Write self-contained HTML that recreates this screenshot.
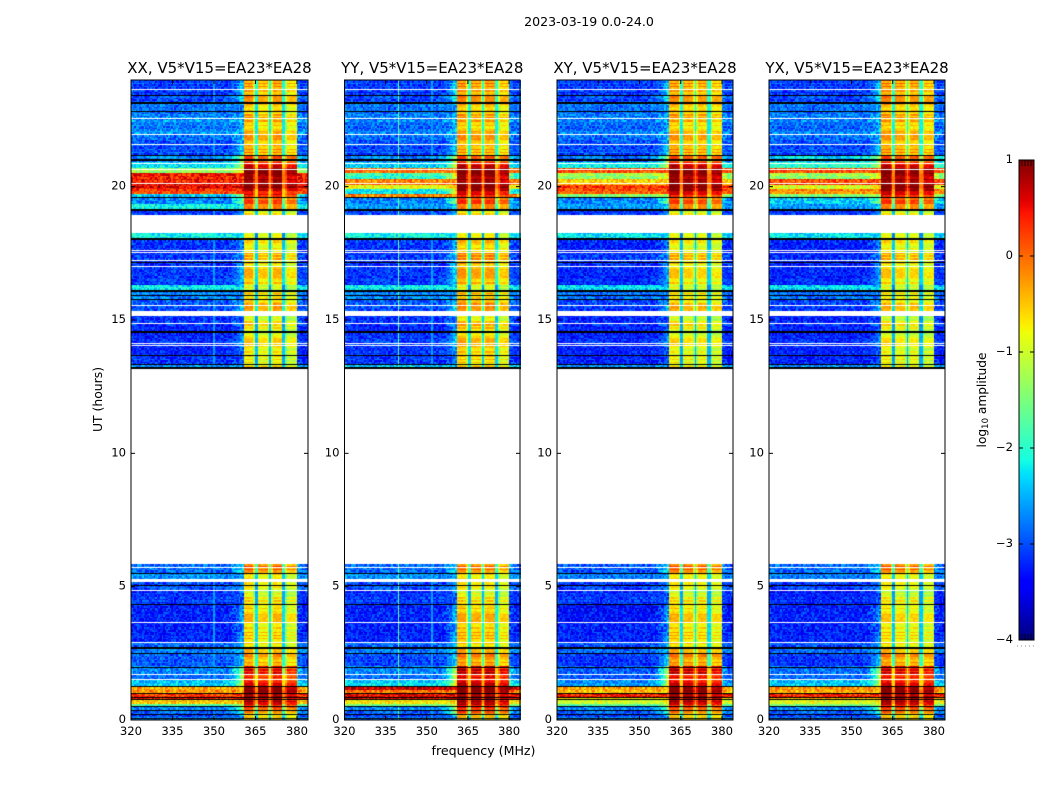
<!DOCTYPE html>
<html lang="en">
<head>
<meta charset="utf-8">
<title>2023-03-19 0.0-24.0 dynamic spectra</title>
<style>
html,body{margin:0;padding:0;background:#fff;}
#figure{position:relative;width:1050px;height:800px;overflow:hidden;background:#fff;}
#figure canvas{position:absolute;display:block;}
#overlay{position:absolute;left:0;top:0;}
#overlay text{font-family:"DejaVu Sans","Liberation Sans",sans-serif;fill:#000;}
</style>
</head>
<body>
<div id="figure">
<svg id="overlay" width="1050" height="800" viewBox="0 0 1050 800"></svg>
</div>
<script>
/* ---------- chart data ---------- */
const figureTitle = "2023-03-19 0.0-24.0";
const panelNames = ["XX", "YY", "XY", "YX"];
const panelTitles = ["XX, V5*V15=EA23*EA28", "YY, V5*V15=EA23*EA28", "XY, V5*V15=EA23*EA28", "YX, V5*V15=EA23*EA28"];
const freqTicks = [320, 335, 350, 365, 380];
const utTicks = [0, 5, 10, 15, 20];
const colorTicks = [-4, -3, -2, -1, 0, 1];
const colorTickLabels = ["\u22124", "\u22123", "\u22122", "\u22121", "0", "1"];

/* UT hour boundaries of the horizontal segments */
const segmentEdges = [0,.10,.21,.39,.52,.62,.77,.86,1.00,1.13,1.27,1.52,1.72,2.00,2.53,2.91,3.66,4.35,4.86,5.27,5.51,5.82,13.17,13.34,13.68,14.05,14.54,14.88,15.34,15.56,15.78,16.12,16.32,17.02,17.54,18.03,18.29,18.93,19.16,19.35,19.6,19.75,19.9,20.05,20.3,20.5,20.66,20.89,21.18,21.6,21.97,22.57,23.13,24];

/* log10 amplitude out of band, per segment */
const bgXX = [-2.6,-2.9,-2.8,-2.6,-1.8,-0.5,0.4,0.3,-0.3,-0.4,-2.4,-2.7,-2.6,-2.8,-2.7,-3.1,-3.1,-3.0,-2.9,-2.5,-2.7,null,-2.5,-3.0,-3.1,-3.1,-3.1,-3.0,-2.9,-2.8,-2.6,-2.2,-3.0,-3.0,-3.0,-2.2,null,-3.0,-2.2,-2.6,-2.3,0.2,0.5,0.45,0.45,-1.4,-2.3,-2.6,-2.9,-2.8,-2.6,-2.7,-3.0];
const bgYY = [-2.7,-2.9,-2.8,-2.6,-1.6,-0.7,0.55,0.6,-0.1,0.65,-2.3,-2.7,-2.6,-2.9,-2.7,-3.1,-3.1,-3,-2.9,-2.5,-2.7,null,-2.4,-3,-3,-3,-3.1,-3,-2.9,-2.8,-2.6,-2.2,-3,-3,-3,-2.2,null,-2.9,-2.5,-2.6,-0.1,-2.2,-0.9,-0.1,-1.9,-0.1,-2.4,-2.6,-2.9,-2.8,-2.7,-2.7,-3];
const bgXY = [-2.6,-2.9,-2.8,-2.6,-1.8,-1.0,-0.7,0.45,-0.5,-0.4,-2.5,-2.8,-2.8,-3,-2.8,-3.1,-3.2,-3,-3,-2.6,-2.8,null,-2.5,-3.1,-3.1,-3.1,-3.1,-3.1,-3,-2.9,-2.7,-2.3,-3.1,-3,-3.1,-2.3,null,-3,-2.5,-2.6,-1.4,0.1,0.2,-0.5,-1.3,0.1,-2.2,-2.7,-2.9,-2.8,-2.7,-2.7,-3];
const bgYX = [-2.7,-2.9,-2.8,-2.6,-1.6,-0.9,-0.4,0.4,-0.4,-0.3,-2.4,-2.7,-2.7,-3,-2.8,-3.1,-3.1,-3.1,-3,-2.6,-2.7,null,-2.5,-3.1,-3.1,-3.1,-3.1,-3.1,-3,-2.9,-2.7,-2.3,-3.1,-3.1,-3.1,-2.3,null,-3,-2.5,-2.4,-1.4,-0.2,-1.0,0.2,-1.3,0.1,-2,-2.3,-2.9,-2.8,-2.7,-2.7,-3];

/* log10 amplitude inside the receiver band, per segment */
const bandXX = [-0.8,-0.5,-0.3,0.1,0.3,0.75,0.9,1,1,0.85,0.45,0.35,0.3,-0.35,-0.6,-0.65,-0.55,-0.85,-0.85,-0.65,-0.15,null,-0.6,-0.85,-0.7,-0.7,-0.85,-0.85,-0.45,-0.5,-0.65,-1.0,-0.55,-0.6,-0.7,-1.0,null,-0.7,-0.3,0.1,0.55,0.55,0.95,1,1,0.95,0.5,0.3,-0.4,-0.4,-0.5,-0.55,-0.4];
const bandYY = [-0.7,-0.3,0.1,0.3,0.5,0.85,1,1,1,1,0.65,0.6,0.55,-0.2,-0.5,-0.5,-0.45,-0.8,-0.8,-0.6,-0.2,null,-0.5,-0.65,-0.5,-0.5,-0.6,-0.7,-0.35,-0.3,-0.5,-0.95,-0.4,-0.35,-0.5,-0.9,null,-0.6,-0.3,0.2,0.6,0.75,1,1,1,0.95,0.6,0.3,-0.4,-0.35,-0.45,-0.45,-0.3];
const bandXY = [-0.7,-0.45,-0.2,0.1,0.3,0.8,1,1,1,0.85,0.55,0.5,0.5,-0.2,-0.55,-0.6,-0.55,-0.85,-0.85,-0.6,-0.1,null,-0.7,-0.85,-0.8,-0.75,-0.85,-0.9,-0.5,-0.6,-0.7,-1.0,-0.65,-0.6,-0.75,-1.0,null,-0.75,-0.3,0.1,0.55,0.8,1,1,1,0.9,0.6,0.3,-0.35,-0.4,-0.5,-0.45,-0.35];
const bandYX = [-0.7,-0.45,-0.1,0.2,0.4,0.85,1,1,1,0.85,0.5,0.45,0.4,-0.25,-0.6,-0.7,-0.65,-0.9,-0.9,-0.65,-0.15,null,-0.75,-0.85,-0.8,-0.8,-0.9,-0.95,-0.55,-0.6,-0.75,-1.0,-0.65,-0.6,-0.7,-1.0,null,-0.75,-0.3,0.15,0.6,0.8,1,1,1,0.9,0.55,0.3,-0.35,-0.4,-0.45,-0.45,-0.3];

/* sub-band limits in MHz and their level offsets */
const subBandStart = [360.5, 365.8, 370.8, 375.9];
const subBandEnd = [364.8, 369.9, 374.9, 380.0];
const subOffsetXX = [0.12, -0.05, 0.1, -0.2];
const subOffsetYY = [0.1, 0, 0.05, -0.2];
const subOffsetXY = [0.1, 0, 0, -0.15];
const subOffsetYX = [0.1, 0, 0, -0.15];

/* interference channels: MHz and level */
const rfiFreqXX = [350];
const rfiLevelXX = [-2.6];
const rfiFreqYY = [339.6, 351.6];
const rfiLevelYY = [-1.6, -2.6];
const rfiFreqXY = [];
const rfiLevelXY = [];
const rfiFreqYX = [];
const rfiLevelYX = [];

/* flagged times in UT hours */
const whiteLineTimes = [23.68,22.57,21.97,21.6,20.89,20.66,20.13,17.63,17.54,17.24,17.02,15.56,14.88,14.14,14.05,5.72,4.86,3.66,2.91,2.69,1.72,1.52];
const whiteBlockStart = [15.14, 18.29, 5.16];
const whiteBlockEnd = [15.34, 18.93, 5.27];
const blackLineTimes = [23.43,22.83,21.18,19.6,17.17,15.93,15.78,13.68,13.34,5.51,5.05,4.35,2.53,2.0,1.27,1.0,.86,.77,.52,.39,.21,.06];
const blackBlockStart = [19.08, 13.17, 23.10, 20.97, 18.00, 16.06, 14.51, 2.66];
const blackBlockEnd = [19.17, 13.24, 23.17, 21.04, 18.07, 16.13, 14.58, 2.73];

/* small hand-typed texture tables approximating pixel grain */
const speckle = [-.22,.31,-.08,.12,-.34,.05,.27,-.15,.18,-.29,.02,.36,-.11,-.25,.21,.09,-.38,.14,-.04,.29,-.19,.07,.33,-.27,.11,-.06,.24,-.32,.16,-.13,.38,-.01,-.23,.2,-.17,.08,.26,-.36,.03,.15,-.09];
const rowStripe = [.05,-.12,.18,-.03,.1,-.2,.14,.02,-.15,.22,-.07,.09,-.18,.12,-.01,.2,-.1,.04,-.14,.16,-.05,.08,-.22];

/* ---------- geometry ---------- */
const panelLeft = [131, 344.5, 557, 769];
const panelWidth = [177, 175.5, 176, 176];
const panelTop = 80;
const panelHeight = 640;
const freqMin = 320;
const freqMax = 384;
const utMin = 0;
const utMax = 24;
const nChannels = 110;
const nRows = 427;
const cbLeft = 1019;
const cbWidth = 15;
const cbTop = 160;
const cbHeight = 480;
const colorMin = -4;
const colorMax = 1;

const panelBg = [bgXX, bgYY, bgXY, bgYX];
const panelBand = [bandXX, bandYY, bandXY, bandYX];
const panelSub = [subOffsetXX, subOffsetYY, subOffsetXY, subOffsetYX];
const panelRfiFreq = [rfiFreqXX, rfiFreqYY, rfiFreqXY, rfiFreqYX];
const panelRfiLevel = [rfiLevelXX, rfiLevelYY, rfiLevelXY, rfiLevelYX];

function xScale(p, f) { return (f - freqMin) / (freqMax - freqMin) * panelWidth[p]; }
function yScale(u) { return panelHeight - (u - utMin) / (utMax - utMin) * panelHeight; }
function colorScale(v) { return cbTop + cbHeight - (v - colorMin) / (colorMax - colorMin) * cbHeight; }

function piece(t, pts) {
  if (t <= pts[0][0]) return pts[0][1];
  for (let i = 1; i < pts.length; i++) {
    if (t <= pts[i][0]) {
      const a = pts[i - 1], b = pts[i];
      return a[1] + (b[1] - a[1]) * (t - a[0]) / (b[0] - a[0]);
    }
  }
  return pts[pts.length - 1][1];
}
const jetR = [[0,0],[.35,0],[.66,1],[.89,1],[1,.5]];
const jetG = [[0,0],[.125,0],[.375,1],[.64,1],[.91,0],[1,0]];
const jetB = [[0,.5],[.11,1],[.34,1],[.65,0],[1,0]];
function jet(t) {
  t = Math.max(0, Math.min(1, t));
  return "rgb(" + Math.round(piece(t, jetR) * 255) + "," + Math.round(piece(t, jetG) * 255) + "," + Math.round(piece(t, jetB) * 255) + ")";
}
function levelColor(v) { return jet((v - colorMin) / (colorMax - colorMin)); }

function segmentAt(u) {
  for (let i = 0; i < segmentEdges.length - 1; i++) {
    if (u < segmentEdges[i + 1]) return i;
  }
  return segmentEdges.length - 2;
}

function cellLevel(p, f, c, r, seg, u) {
  const bg = panelBg[p][seg], band = panelBand[p][seg];
  if (bg === null) return null;
  const grain = speckle[(c * c * 3 + r * r * 5 + c * r * 7 + c * 11 + r * 13) % speckle.length];
  const stripe = rowStripe[(r * r + r * 3) % rowStripe.length];
  const rfiF = panelRfiFreq[p];
  for (let i = 0; i < rfiF.length; i++) {
    if (Math.abs(f - rfiF[i]) < 0.33) return Math.max(bg, panelRfiLevel[p][i]) + grain * 0.3;
  }
  const starts = subBandStart, ends = subBandEnd;
  if (f >= starts[0] && f <= ends[3]) {
    for (let i = 0; i < 4; i++) {
      if (f >= starts[i] && f <= ends[i]) {
        const edge = Math.min(f - starts[i], ends[i] - f);
        const roll = edge < 0.3 ? -0.5 : 0;
        return band + panelSub[p][i] + roll + stripe * 1.4 + grain * 0.4;
      }
    }
    return band - (band > 0.3 ? 1.1 : 1.7) + grain * 0.3;
  }
  const edgeLevel = band - (band > 0 ? 1.6 : 2.0);
  const cold = bg < -2.4 ? (u > 21 ? -0.1 : -0.15) : 0;
  let v = bg + cold;
  if (f < starts[0] && f > 354) {
    const t = (f - 354) / (starts[0] - 354);
    if (edgeLevel > v) v = v + (edgeLevel - v) * t * t;
  } else if (f > ends[3]) {
    const t = Math.max(0, 1 - (f - ends[3]) / 2);
    if (edgeLevel > v) v = v + (edgeLevel - v) * 0.4 * t * t;
  }
  const stripeWeight = (u > 21 || bg > -2.4) ? 0.6 : 0.2;
  return v + grain * 1.1 + stripe * stripeWeight;
}

/* ---------- heatmaps ---------- */
const figure = document.getElementById("figure");
function drawHeatmap(p) {
  const w = Math.ceil(panelWidth[p]);
  const cv = document.createElement("canvas");
  
  
  cv.width = w;
  cv.height = panelHeight;
  cv.style.left = Math.round(panelLeft[p]) + "px";
  cv.style.top = panelTop + "px";
  figure.insertBefore(cv, figure.firstChild);
  const ctx = cv.getContext("2d");
  const fStep = (freqMax - freqMin) / nChannels;
  const uStep = (utMax - utMin) / nRows;
  for (let r = 0; r < nRows; r++) {
    const u = utMin + (r + 0.5) * uStep;
    const seg = segmentAt(u);
    const y1 = Math.round(yScale(utMin + (r + 1) * uStep));
    const y0 = Math.round(yScale(utMin + r * uStep));
    for (let c = 0; c < nChannels; c++) {
      const f = freqMin + (c + 0.5) * fStep;
      const v = cellLevel(p, f, c, r, seg, u);
      if (v === null) continue;
      const x0 = Math.round(xScale(p, freqMin + c * fStep));
      const x1 = Math.round(xScale(p, freqMin + (c + 1) * fStep));
      ctx.fillStyle = levelColor(v);
      ctx.fillRect(x0, y1, x1 - x0, y0 - y1);
    }
  }
  ctx.fillStyle = "#fff";
  whiteBlockStart.forEach(function (s, i) {
    const top = Math.round(yScale(whiteBlockEnd[i]));
    ctx.fillRect(0, top, w, Math.round(yScale(s)) - top);
  });
  whiteLineTimes.forEach(function (u) {
    ctx.fillRect(0, Math.round(yScale(u)), w, 1);
  });
  ctx.fillStyle = "#000";
  blackBlockStart.forEach(function (s, i) {
    const top = Math.round(yScale(blackBlockEnd[i]));
    ctx.fillRect(0, top, w, Math.round(yScale(s)) - top);
  });
  blackLineTimes.forEach(function (u) {
    ctx.fillRect(0, Math.round(yScale(u)), w, 1);
  });
}
panelNames.forEach(function (n, p) { drawHeatmap(p); });

/* ---------- axes and labels ---------- */
const NS = "http://www.w3.org/2000/svg";
const overlay = document.getElementById("overlay");
function textNode(str, x, y, anchor, size) {
  const t = document.createElementNS(NS, "text");
  t.textContent = str;
  t.setAttribute("x", x);
  t.setAttribute("y", y);
  t.setAttribute("text-anchor", anchor);
  t.setAttribute("font-size", size);
  overlay.appendChild(t);
  return t;
}
function lineNode(x1, y1, x2, y2, width, color) {
  const l = document.createElementNS(NS, "line");
  l.setAttribute("x1", x1);
  l.setAttribute("y1", y1);
  l.setAttribute("x2", x2);
  l.setAttribute("y2", y2);
  l.setAttribute("stroke", color);
  l.setAttribute("stroke-width", width);
  overlay.appendChild(l);
  return l;
}

panelNames.forEach(function (n, p) {
  const key = n.toLowerCase();
  const x0 = panelLeft[p], w = panelWidth[p];
  const frame = document.createElementNS(NS, "rect");
  frame.setAttribute("x", x0);
  frame.setAttribute("y", panelTop);
  frame.setAttribute("width", w);
  frame.setAttribute("height", panelHeight);
  frame.setAttribute("fill", "none");
  frame.setAttribute("stroke", "#000");
  frame.setAttribute("stroke-width", "1");
  
  
  overlay.appendChild(frame);

  const title = textNode(panelTitles[p], x0 + w / 2, 73, "middle", 15);
  
  

  freqTicks.forEach(function (f) {
    const x = x0 + xScale(p, f);
    const bottom = lineNode(x, panelTop + panelHeight, x, panelTop + panelHeight - 4, 1, "#000");
    
    
    const top = lineNode(x, panelTop, x, panelTop + 4, 1, "#000");
    
    
    const label = textNode(String(f), x, 735, "middle", 11.6);
    
    
  });
  utTicks.forEach(function (u) {
    const y = panelTop + yScale(u);
    const left = lineNode(x0, y, x0 + 4, y, 1, "#000");
    
    
    const right = lineNode(x0 + w, y, x0 + w - 4, y, 1, "#000");
    
    
    const label = textNode(String(u), x0 - 5, y + 3, "end", 11.6);
    
    
  });
});

const supTitle = textNode(figureTitle, 589, 26, "middle", 12.6);



const xTitle = textNode("frequency (MHz)", 483.5, 755, "middle", 12.6);



const yTitle = textNode("UT (hours)", 0, 0, "middle", 12.4);
yTitle.setAttribute("transform", "translate(102,399.5) rotate(-90)");



/* ---------- colour bar ---------- */
const defs = document.createElementNS(NS, "defs");
const grad = document.createElementNS(NS, "linearGradient");
grad.setAttribute("id", "jetGradient");
grad.setAttribute("x1", "0");
grad.setAttribute("y1", "1");
grad.setAttribute("x2", "0");
grad.setAttribute("y2", "0");
for (let i = 0; i <= 64; i++) {
  const stop = document.createElementNS(NS, "stop");
  stop.setAttribute("offset", i / 64);
  stop.setAttribute("stop-color", jet(i / 64));
  grad.appendChild(stop);
}
defs.appendChild(grad);
overlay.appendChild(defs);

const cbar = document.createElementNS(NS, "rect");
cbar.setAttribute("x", cbLeft);
cbar.setAttribute("y", cbTop);
cbar.setAttribute("width", cbWidth);
cbar.setAttribute("height", cbHeight);
cbar.setAttribute("fill", "url(#jetGradient)");
cbar.setAttribute("stroke", "#000");
cbar.setAttribute("stroke-width", "1");


overlay.appendChild(cbar);

colorTicks.forEach(function (v, i) {
  const y = colorScale(v);
  if (i > 0 && i < colorTicks.length - 1) {
    const a = lineNode(cbLeft, y, cbLeft + 4, y, 1, "#000");
    
    
    const b = lineNode(cbLeft + cbWidth, y, cbLeft + cbWidth - 4, y, 1, "#000");
    
    
  }
  const label = textNode(colorTickLabels[i], cbLeft - 6, y + 3, "end", 11.6);
  
  
});

[3, 6, 9, 12].forEach(function (dx) {
  const t1 = lineNode(cbLeft + dx, cbTop, cbLeft + dx, cbTop + 6, 0.8, "#000");
  
  
  const t2 = lineNode(cbLeft + dx, cbTop + cbHeight, cbLeft + dx, cbTop + cbHeight - 6, 0.8, "#000");
  
  
});

const dots = lineNode(1017, 646, 1035, 646, 1, "#888");
dots.setAttribute("stroke-dasharray", "1 3");



const cbTitle = textNode("log", 0, 0, "middle", 12.2);
cbTitle.setAttribute("transform", "translate(986,400) rotate(-90)");


const cbSub = document.createElementNS(NS, "tspan");
cbSub.textContent = "10";
cbSub.setAttribute("font-size", "8.5");
cbSub.setAttribute("dy", "2");
cbTitle.appendChild(cbSub);
const cbRest = document.createElementNS(NS, "tspan");
cbRest.textContent = " amplitude";
cbRest.setAttribute("dy", "-2");
cbTitle.appendChild(cbRest);
</script>
</body>
</html>
